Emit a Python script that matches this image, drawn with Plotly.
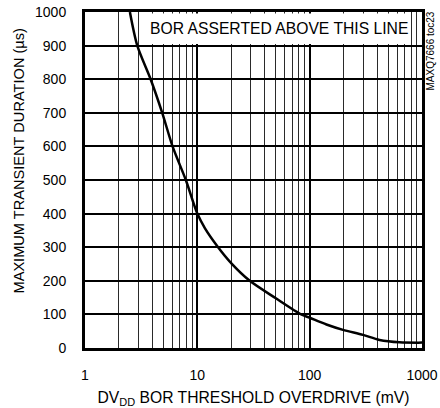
import plotly.graph_objects as go

overdrive_mv = [2.51, 2.92, 3.84, 4.87, 6.02, 7.9, 10, 11.7, 15.3, 20.1, 29.3, 50, 84, 100, 141, 198, 298, 419, 631, 1000]
duration_us = [1000, 900, 800, 700, 600, 500, 400, 356, 300, 252, 200, 148, 100, 90, 70, 54, 39, 24, 17, 16]

x_major = [1, 10, 100, 1000]
x_major_labels = ["1", "10", "100", "1000"]
x_minor = [m * d for d in (1, 10, 100) for m in range(2, 10)]
y_ticks = list(range(0, 1001, 100))

FONT = "Liberation Sans, Arial, sans-serif"

L, R, T, B = 85, 18, 12, 60
W, H = 440, 408
PW, PH = W - L - R, H - T - B

fig = go.Figure()
fig.add_trace(go.Scatter(
    x=overdrive_mv, y=duration_us, mode="lines",
    line=dict(color="black", width=2.5, shape="spline", smoothing=0.8),
    showlegend=False, hoverinfo="skip",
))

fig.update_layout(
    width=W, height=H,
    margin=dict(l=L, r=R, t=T, b=B),
    paper_bgcolor="white", plot_bgcolor="white",
    font=dict(family=FONT, size=14, color="black"),
    xaxis=dict(
        type="log", range=[0, 3], automargin=False,
        tickmode="array", tickvals=x_major, ticktext=x_major_labels,
        showgrid=True, gridcolor="black", gridwidth=2,
        minor=dict(tickmode="array", tickvals=x_minor, showgrid=True,
                   gridcolor="#2a2a2a", gridwidth=1.3, ticks=""),
        showline=True, linecolor="black", linewidth=3, mirror=True,
        ticks="", ticklabelstandoff=12, tickfont=dict(size=14),
        title=dict(text="DV<sub>DD</sub> BOR THRESHOLD OVERDRIVE (mV)", standoff=11,
                   font=dict(size=15.7)),
        zeroline=False,
    ),
    yaxis=dict(
        range=[0, 1000], tickmode="array", tickvals=y_ticks, automargin=False,
        showgrid=True, gridcolor="black", gridwidth=2,
        showline=True, linecolor="black", linewidth=3, mirror=True,
        ticks="", ticklabelstandoff=13, tickfont=dict(size=14),
        zeroline=False,
    ),
)

# label box covering the grid
fig.add_shape(
    type="rect", xref="paper", yref="paper",
    x0=(146 - L) / PW, x1=(411 - L) / PW,
    y0=(H - B - 44) / PH, y1=(H - B - 13.5) / PH,
    fillcolor="white", line=dict(width=0), layer="above",
)
fig.add_annotation(
    xref="paper", yref="paper", x=(278.5 - L) / PW, y=(H - B - 28.5) / PH,
    xanchor="center", yanchor="middle",
    text="BOR ASSERTED ABOVE THIS LINE", showarrow=False,
    font=dict(size=15.7, family=FONT),
)
# y-axis title
fig.add_annotation(
    xref="paper", yref="paper", x=0, xshift=-(L - 18), y=(H - B - 161.5) / PH,
    xanchor="center", yanchor="middle", textangle=-90,
    text="MAXIMUM TRANSIENT DURATION (µs)", showarrow=False,
    font=dict(size=14.6, family=FONT),
)
fig.add_annotation(
    xref="paper", yref="paper", x=1, xshift=8, y=(H - B - 51.5) / PH,
    xanchor="center", yanchor="middle", textangle=-90,
    text="MAXQ7666 toc23", showarrow=False, font=dict(size=10, family=FONT),
)

fig.write_html("out.html")
